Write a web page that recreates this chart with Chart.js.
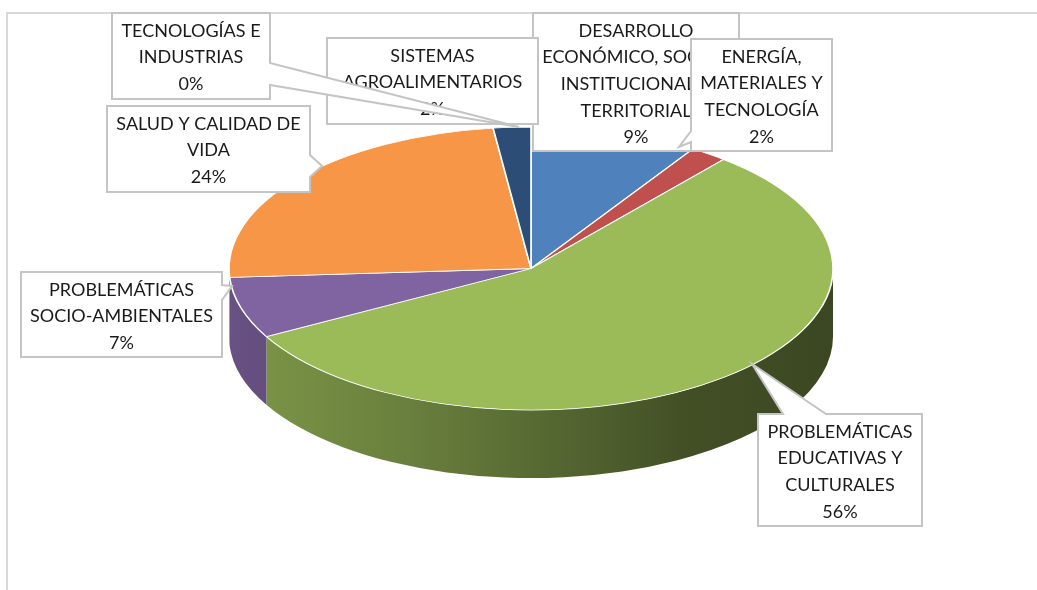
<!DOCTYPE html>
<html><head><meta charset="utf-8">
<script src="https://cdn.jsdelivr.net/npm/chart.js@4.4.1/dist/chart.umd.min.js"></script>
<style>html,body{margin:0;padding:0;background:#fff;overflow:hidden}canvas{display:block}</style>
</head><body>
<canvas id="c" width="1037" height="590"></canvas>
<script>
// ---- data ----
const categories = [
  ["DESARROLLO","ECONÓMICO, SOCIAL,","INSTITUCIONAL Y","TERRITORIAL"],
  ["ENERGÍA,","MATERIALES Y","TECNOLOGÍA"],
  ["PROBLEMÁTICAS","EDUCATIVAS Y","CULTURALES"],
  ["PROBLEMÁTICAS","SOCIO-AMBIENTALES"],
  ["SALUD Y CALIDAD DE","VIDA"],
  ["SISTEMAS","AGROALIMENTARIOS"],
  ["TECNOLOGÍAS E","INDUSTRIAS"]
];
const values = [9, 2, 56, 7, 24, 2, 0];

// ---- styles ----
const colors = ['#4f81bd','#c0504d','#9bbb59','#8064a2','#f79646','#2c4d75','#4bacc6'];

// ---- layout (callout boxes) ----
const callouts = [
  {box:[533,13,206,138]},
  {box:[691,39,141,112], ptr:{side:'left', a:131, b:142, tip:[679,147]}},
  {box:[758,414,164,112], ptr:{side:'top', a:783, b:826, tip:[752,364]}},
  {box:[21,272,201,85], ptr:{side:'right', a:285, b:300, tip:[232,286]}},
  {box:[107,106,203,86], ptr:{side:'right', a:155, b:177, tip:[322,166]}},
  {box:[327,38,211,86]},
  {box:[112,13,158,86], ptr:{side:'right', a:63, b:85, tip:[519,127]}}
];
const drawOrder = [0,1,5,6,4,3,2];
const pieGeom = {cx:531, cy:268.5, rx:302, ry:141.5, depth:68};

function shade(hex, f){
  const n=parseInt(hex.slice(1),16);
  const r=Math.round(((n>>16)&255)*f), g=Math.round(((n>>8)&255)*f), b=Math.round((n&255)*f);
  return `rgb(${r},${g},${b})`;
}

const pie3d = {
  id:'pie3d',
  beforeDatasetsDraw(chart){
    const ctx = chart.ctx, meta = chart.getDatasetMeta(0);
    const a0 = meta.data[0];
    const {cx,cy,rx,ry,depth} = pieGeom;
    ctx.save();
    meta.data.forEach((arc,i)=>{
      const s = Math.max(arc.startAngle, 0), e = Math.min(arc.endAngle, Math.PI);
      if (e - s <= 0.0001) return;
      const g = ctx.createLinearGradient(cx-rx,0,cx+rx,0);
      const fs=[[0,0.81],[0.3,0.68],[0.5,0.57],[0.75,0.43],[1,0.38]];
      fs.forEach(([t,f])=>g.addColorStop(t, shade(colors[i], f)));
      ctx.beginPath();
      ctx.ellipse(cx,cy,rx,ry,0,s,e,false);
      ctx.ellipse(cx,cy+depth,rx,ry,0,e,s,true);
      ctx.closePath();
      ctx.fillStyle = g;
      ctx.fill();
    });
    ctx.restore();
    ctx.save();
    ctx.translate(cx,cy);
    ctx.scale(rx/a0.outerRadius, ry/a0.outerRadius);
    ctx.translate(-a0.x,-a0.y);
  },
  afterDatasetsDraw(chart){
    const ctx = chart.ctx;
    ctx.restore();
    const total = values.reduce((a,b)=>a+b,0);
    // frame
    ctx.save();
    ctx.strokeStyle='#d9d9d9'; ctx.lineWidth=2;
    ctx.beginPath(); ctx.moveTo(7,600); ctx.lineTo(7,13); ctx.lineTo(1040,13); ctx.stroke();
    ctx.restore();
    drawOrder.forEach(i=>{
      const c = callouts[i];
      const [x,y,w,h] = c.box; const p = c.ptr;
      ctx.save();
      ctx.beginPath();
      ctx.moveTo(x,y);
      if (p && p.side==='top'){ ctx.lineTo(p.a,y); ctx.lineTo(p.tip[0],p.tip[1]); ctx.lineTo(p.b,y); }
      ctx.lineTo(x+w,y);
      if (p && p.side==='right'){ ctx.lineTo(x+w,p.a); ctx.lineTo(p.tip[0],p.tip[1]); ctx.lineTo(x+w,p.b); }
      ctx.lineTo(x+w,y+h);
      ctx.lineTo(x,y+h);
      if (p && p.side==='left'){ ctx.lineTo(x,p.b); ctx.lineTo(p.tip[0],p.tip[1]); ctx.lineTo(x,p.a); }
      ctx.closePath();
      ctx.fillStyle='#ffffff'; ctx.fill();
      ctx.strokeStyle='#c4c4c4'; ctx.lineWidth=2; ctx.lineJoin='miter'; ctx.stroke();
      const lines = categories[i].concat([Math.round(values[i]/total*100)+'%']);
      ctx.fillStyle='#1a1a1a';
      ctx.font='18px Lato';
      ctx.textAlign='center'; ctx.textBaseline='middle';
      lines.forEach((t,k)=>ctx.fillText(t, x+w/2, y+18+k*26.6));
      ctx.restore();
    });
  }
};

new Chart(document.getElementById('c'), {
  type:'pie',
  data:{
    labels: categories,
    datasets:[{data: values, backgroundColor: colors, borderColor:'#ffffff', borderWidth:1.5, clip:false}]
  },
  options:{
    responsive:false, animation:false, events:[],
    layout:{padding:20},
    plugins:{legend:{display:false}, tooltip:{enabled:false}}
  },
  plugins:[pie3d]
});
</script>
</body></html>
